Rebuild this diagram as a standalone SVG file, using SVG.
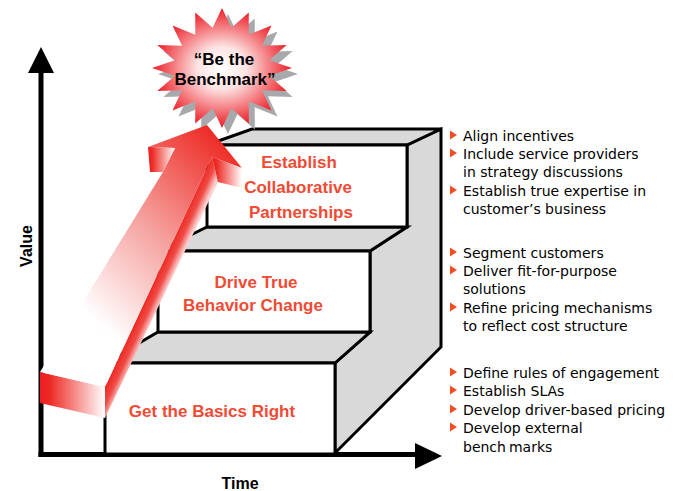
<svg xmlns="http://www.w3.org/2000/svg" width="680" height="491" viewBox="0 0 680 491">
<defs>
<style>
.face{fill:#ffffff;stroke:#000;stroke-width:3;stroke-linejoin:miter}
.gray{fill:#d9d9d9;stroke:#000;stroke-width:3;stroke-linejoin:miter}
.lbl{font-family:"Liberation Sans",Arial,sans-serif;font-weight:bold;font-size:17px;fill:#ef4b35;text-anchor:middle}
.ax{font-family:"Liberation Sans",Arial,sans-serif;font-weight:bold;font-size:16px;fill:#000;text-anchor:middle}
.star{font-family:"Liberation Sans",Arial,sans-serif;font-weight:bold;font-size:17px;fill:#000;text-anchor:middle}
.bl{font-family:"DejaVu Sans","Liberation Sans",sans-serif;font-size:14px;fill:#000}
.tri{fill:#f04e23}
</style>
<radialGradient id="gStar" cx="0.5" cy="0.5" r="0.5">
<stop offset="0" stop-color="#ffffff"/>
<stop offset="0.35" stop-color="#fde4e4"/>
<stop offset="1" stop-color="#ec1c24"/>
</radialGradient>
<linearGradient id="gFront" gradientUnits="userSpaceOnUse" x1="60" y1="340" x2="235" y2="150">
<stop offset="0" stop-color="#ffffff"/>
<stop offset="0.15" stop-color="#ffffff"/>
<stop offset="0.55" stop-color="#f5a3a0"/>
<stop offset="1" stop-color="#ee2a24"/>
</linearGradient>
<linearGradient id="gBand" gradientUnits="userSpaceOnUse" x1="150" y1="290" x2="163.3" y2="296.1">
<stop offset="0" stop-color="#ee2a24"/>
<stop offset="0.5" stop-color="#f04a44"/>
<stop offset="1" stop-color="#fbd0d0"/>
</linearGradient>
<linearGradient id="gSide" x1="0" y1="0" x2="1" y2="0">
<stop offset="0" stop-color="#ee1c24"/>
<stop offset="0.15" stop-color="#ee2a24"/>
<stop offset="1" stop-color="#ffffff"/>
</linearGradient>
<path id="starShape" d="M0,-60 L9.4,-40.2 L26.8,-55.4 L26.7,-33.3 L49.5,-42.4 L39.9,-22.2 L64.7,-23 L47.1,-7.8 L70,0 L47.1,7.8 L64.7,23 L39.9,22.2 L49.5,42.4 L26.7,33.3 L26.8,55.4 L9.4,40.2 L0,60 L-9.4,40.2 L-26.8,55.4 L-26.7,33.3 L-49.5,42.4 L-39.9,22.2 L-64.7,23 L-47.1,7.8 L-70,0 L-47.1,-7.8 L-64.7,-23 L-39.9,-22.2 L-49.5,-42.4 L-26.7,-33.3 L-26.8,-55.4 L-9.4,-40.2 Z"/>
</defs>

<rect width="680" height="491" fill="#ffffff"/>

<g id="connectors">
<line x1="41" y1="70" x2="41" y2="457" stroke="#000" stroke-width="5"/>
<polygon points="41,47 54,73 28,73" fill="#000"/>
<line x1="38.5" y1="454.5" x2="418" y2="454.5" stroke="#000" stroke-width="5"/>
<polygon points="442,456 415,443 415,469" fill="#000"/>
</g>

<g id="staircase">
<polygon class="gray" points="335,453 335,363 370,332 370,251 407,227 407,145 441,129 441,347"/>
<polygon class="gray" points="207,145 407,145 441,129 252,129"/>
<polygon class="gray" points="158,251 370,251 407,227 207,227"/>
<polygon class="gray" points="105,363 335,363 370,332 158,332"/>
</g>

<g id="step-partnerships">
<rect class="face" x="207" y="145" width="200" height="82"/>
<text class="lbl" x="299" y="168">Establish</text>
<text class="lbl" x="298" y="193">Collaborative</text>
<text class="lbl" x="301" y="218">Partnerships</text>
</g>

<g id="step-behavior">
<rect class="face" x="158" y="251" width="212" height="81"/>
<text class="lbl" x="256" y="288">Drive True</text>
<text class="lbl" x="253" y="311">Behavior Change</text>
</g>

<g id="step-basics">
<rect class="face" x="105" y="363" width="230" height="91"/>
<text class="lbl" x="212" y="417">Get the Basics Right</text>
</g>

<g id="benchmark-star">
<use href="#starShape" transform="translate(228,74)" fill="#a7a9ac"/>
<use href="#starShape" transform="translate(222,68)" fill="url(#gStar)"/>
<text class="star" x="224" y="65">“Be the</text>
<text class="star" x="225" y="85">Benchmark”</text>
</g>

<g id="growth-arrow">
<polygon points="40,372 105,387 105,418 40,403" fill="url(#gSide)"/>
<polygon points="105,387 212,157 218,182 105,418" fill="url(#gBand)"/>
<polygon points="148,147 207,125 242,168 212,157 105,387 40,372 163,172 175,148" fill="url(#gFront)"/>
<polygon points="148,147 175,148 163,172 150,172" fill="url(#gSide)"/>
<polygon points="212,157 242,168 242,188 218,182" fill="url(#gSide)"/>
</g>

<g id="axis-labels">
<text class="ax" transform="translate(32,246) rotate(-90)" font-size="17">Value</text>
<text class="ax" x="240" y="489">Time</text>
</g>

<g id="bullets-partnerships">
<path class="tri" d="M450,130.5 L457,135 L450,139.5 Z"/>
<text class="bl" x="463" y="141">Align incentives</text>
<path class="tri" d="M450,148.5 L457,153 L450,157.5 Z"/>
<text class="bl" x="463" y="159">Include service providers</text>
<text class="bl" x="463" y="177">in strategy discussions</text>
<path class="tri" d="M450,185.5 L457,190 L450,194.5 Z"/>
<text class="bl" x="463" y="196">Establish true expertise in</text>
<text class="bl" x="463" y="214">customer’s business</text>
</g>

<g id="bullets-behavior">
<path class="tri" d="M450,247.5 L457,252 L450,256.5 Z"/>
<text class="bl" x="463" y="258">Segment customers</text>
<path class="tri" d="M450,265.5 L457,270 L450,274.5 Z"/>
<text class="bl" x="463" y="276">Deliver fit-for-purpose</text>
<text class="bl" x="463" y="294">solutions</text>
<path class="tri" d="M450,302.5 L457,307 L450,311.5 Z"/>
<text class="bl" x="463" y="313">Refine pricing mechanisms</text>
<text class="bl" x="463" y="331">to reflect cost structure</text>
</g>

<g id="bullets-basics">
<path class="tri" d="M450,367.5 L457,372 L450,376.5 Z"/>
<text class="bl" x="463" y="378">Define rules of engagement</text>
<path class="tri" d="M450,385.5 L457,390 L450,394.5 Z"/>
<text class="bl" x="463" y="396">Establish SLAs</text>
<path class="tri" d="M450,404.5 L457,409 L450,413.5 Z"/>
<text class="bl" x="463" y="415">Develop driver-based pricing</text>
<path class="tri" d="M450,422.5 L457,427 L450,431.5 Z"/>
<text class="bl" x="463" y="433">Develop external</text>
<text class="bl" x="463" y="452">bench<tspan dx="3">marks</tspan></text>
</g>
</svg>
